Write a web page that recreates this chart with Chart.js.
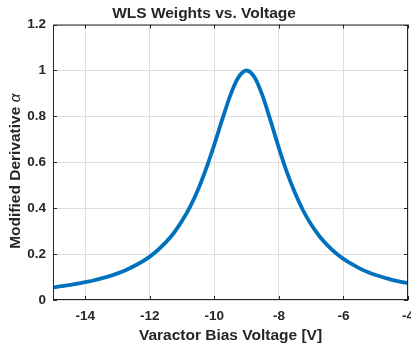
<!DOCTYPE html>
<html>
<head>
<meta charset="utf-8">
<script src="https://cdn.jsdelivr.net/npm/chart.js@4"></script>
<style>
  html, body { margin: 0; padding: 0; background: #fff; }
  #wrap { width: 411px; height: 345px; }
</style>
</head>
<body>
<div id="wrap"><canvas id="myChart"></canvas></div>
<script>
// voltage samples [V]
const voltage = [-15, -14.75, -14.5, -14.25, -14, -13.75, -13.5, -13.25, -13, -12.75, -12.5, -12.25,
  -12, -11.75, -11.5, -11.25, -11, -10.75, -10.5, -10.25, -10, -9.75, -9.5, -9.25, -9,
  -8.75, -8.5, -8.25, -8, -7.75, -7.5, -7.25, -7, -6.75, -6.5, -6.25, -6, -5.75, -5.5,
  -5.25, -5, -4.75, -4.5, -4.25, -4];
// modified derivative alpha
const alpha = [0.055, 0.060, 0.065, 0.071, 0.078, 0.085, 0.094, 0.104, 0.116, 0.130, 0.147, 0.166,
  0.189, 0.218, 0.252, 0.293, 0.345, 0.407, 0.483, 0.574, 0.678, 0.789, 0.894, 0.971, 1.000,
  0.969, 0.887, 0.777, 0.662, 0.556, 0.466, 0.390, 0.329, 0.279, 0.239, 0.206, 0.179, 0.157, 0.138,
  0.122, 0.109, 0.098, 0.088, 0.080, 0.073];
const xTicks = [-14, -12, -10, -8, -6, -4];
const yTicks = [0, 0.2, 0.4, 0.6, 0.8, 1, 1.2];

const axisColor = '#262626';
const fontFam = '"Liberation Sans", Arial, sans-serif';

// matlab style box with inward ticks + y label with italic alpha
const boxPlugin = {
  id: 'box',
  afterDatasetsDraw(chart) {
    const { ctx, chartArea: a, scales } = chart;
    ctx.save();
    ctx.strokeStyle = axisColor;
    ctx.lineWidth = 1;
    ctx.strokeRect(a.left + 0.5, a.top + 0.5, a.right - a.left - 1, a.bottom - a.top - 1);
    ctx.beginPath();
    scales.x.ticks.forEach(t => {
      const px = Math.round(scales.x.getPixelForValue(t.value)) + 0.5;
      ctx.moveTo(px, a.bottom); ctx.lineTo(px, a.bottom - 4);
      ctx.moveTo(px, a.top); ctx.lineTo(px, a.top + 4);
    });
    scales.y.ticks.forEach(t => {
      const py = Math.round(scales.y.getPixelForValue(t.value)) + 0.5;
      ctx.moveTo(a.left, py); ctx.lineTo(a.left + 4, py);
      ctx.moveTo(a.right, py); ctx.lineTo(a.right - 4, py);
    });
    ctx.stroke();

    // y axis title
    const part1 = 'Modified Derivative ';
    const part2 = 'α';
    const f1 = 'bold 15.5px ' + fontFam;
    const f2 = 'italic 15px ' + fontFam;
    ctx.font = f1;
    const w1 = ctx.measureText(part1).width;
    ctx.font = f2;
    const w2 = ctx.measureText(part2).width;
    const mid = (a.top + a.bottom) / 2 + 9;
    ctx.translate(20, mid + (w1 + w2) / 2);
    ctx.rotate(-Math.PI / 2);
    ctx.fillStyle = axisColor;
    ctx.textBaseline = 'alphabetic';
    ctx.textAlign = 'left';
    ctx.font = f1;
    ctx.fillText(part1, 0, 0);
    ctx.font = f2;
    ctx.fillText(part2, w1, 0);
    ctx.restore();
  }
};

const ctx = document.getElementById('myChart').getContext('2d');
const myChart = new Chart(ctx, {
  type: 'line',
  data: {
    datasets: [{
      data: voltage.map((v, i) => ({ x: v, y: alpha[i] })),
      borderColor: '#0072BD',
      borderWidth: 3.8,
      pointRadius: 0,
      cubicInterpolationMode: 'monotone',
      fill: false
    }]
  },
  options: {
    responsive: true,
    maintainAspectRatio: false,
    animation: false,
    layout: { padding: { left: 0, right: 3, top: 0, bottom: 0 } },
    plugins: {
      legend: { display: false },
      tooltip: { enabled: false },
      title: {
        display: true,
        text: 'WLS Weights vs. Voltage',
        color: axisColor,
        font: { family: fontFam, size: 15.5, weight: 'bold' },
        padding: { top: 4, bottom: 2 }
      }
    },
    scales: {
      x: {
        type: 'linear',
        min: -15,
        max: -4,
        afterBuildTicks: s => { s.ticks = xTicks.map(v => ({ value: v })); },
        afterFit: s => { s.height = 45; s.paddingRight = 0; s.paddingLeft = 0; },
        grid: { color: '#dedede', drawTicks: false },
        border: { display: false },
        ticks: {
          color: axisColor,
          padding: 8,
          maxRotation: 0,
          callback: v => String(v),
          font: { family: fontFam, size: 13.5, weight: 'bold' }
        },
        title: {
          display: true,
          text: 'Varactor Bias Voltage [V]',
          color: axisColor,
          font: { family: fontFam, size: 15.5, weight: 'bold' },
          padding: { top: 0, bottom: 0 }
        }
      },
      y: {
        min: 0,
        max: 1.2,
        afterBuildTicks: s => { s.ticks = yTicks.map(v => ({ value: v })); },
        afterFit: s => { s.width = 53; },
        grid: { color: '#dedede', drawTicks: false },
        border: { display: false },
        ticks: {
          color: axisColor,
          padding: 7,
          callback: v => String(v),
          font: { family: fontFam, size: 13.5, weight: 'bold' }
        }
      }
    }
  },
  plugins: [boxPlugin]
});
</script>
</body>
</html>
